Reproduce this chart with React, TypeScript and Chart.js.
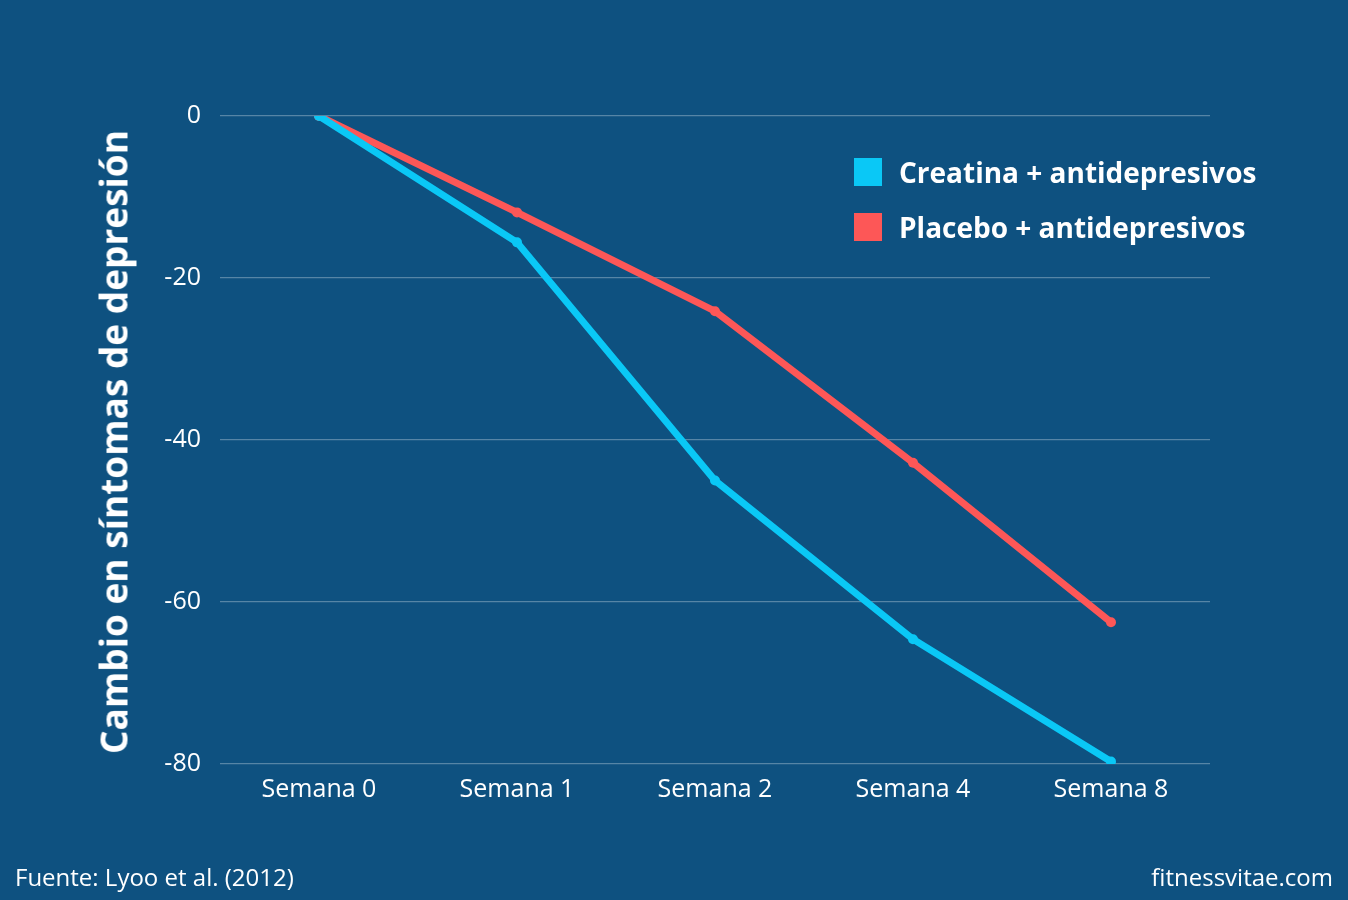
import { useEffect, useRef } from "react";
import { Chart, registerables } from "chart.js";

Chart.register(...registerables);

const weeks = ["Semana 0", "Semana 1", "Semana 2", "Semana 4", "Semana 8"];
const creatina = [0, -15.6, -45, -64.6, -79.7];
const placebo = [0, -11.9, -24.1, -42.8, -62.5];
const yTicks = [0, -20, -40, -60, -80];

const BG = "#0e5180";
const CYAN = "#0ac8f6";
const RED = "#fd5757";
const FONT = "'Open Sans', 'Noto Sans', sans-serif";

export default function App() {
  const canvasRef = useRef<HTMLCanvasElement | null>(null);

  useEffect(() => {
    document.body.style.margin = "0";
    document.body.style.background = BG;
    if (!canvasRef.current) return;

    const chart = new Chart(canvasRef.current, {
      type: "line",
      data: {
        labels: weeks,
        datasets: [
          {
            label: "Creatina + antidepresivos",
            data: creatina,
            borderColor: CYAN,
            backgroundColor: CYAN,
            borderWidth: 7,
            pointRadius: 5,
            pointBorderWidth: 0,
            tension: 0,
          },
          {
            label: "Placebo + antidepresivos",
            data: placebo,
            borderColor: RED,
            backgroundColor: RED,
            borderWidth: 7,
            pointRadius: 5,
            pointBorderWidth: 0,
            tension: 0,
          },
        ],
      },
      options: {
        responsive: false,
        animation: false,
        layout: { padding: { top: 116, right: 138, bottom: 0, left: 0 } },
        plugins: {
          legend: { display: false },
          tooltip: { enabled: false },
        },
        scales: {
          x: {
            offset: true,
            grid: { display: false },
            border: { display: false },
            ticks: {
              color: "#ffffff",
              padding: 3,
              font: { family: FONT, size: 25 },
            },
            afterFit: (scale) => {
              scale.height = 136;
            },
          },
          y: {
            min: -80,
            max: 0,
            afterBuildTicks: (scale) => {
              scale.ticks = yTicks.map((v) => ({ value: v }));
            },
            grid: {
              color: "rgba(255, 255, 255, 0.3)",
              lineWidth: 1.3,
              drawTicks: false,
            },
            border: { display: false },
            ticks: {
              color: "#ffffff",
              padding: 19,
              font: { family: FONT, size: 25 },
            },
            afterFit: (scale) => {
              scale.width = 220;
            },
          },
        },
      },
    });

    return () => chart.destroy();
  }, []);

  const legendItems = [
    { label: "Creatina + antidepresivos", color: CYAN, top: 158 },
    { label: "Placebo + antidepresivos", color: RED, top: 213 },
  ];

  return (
    <div
      style={{
        position: "relative",
        width: 1348,
        height: 900,
        background: BG,
        fontFamily: FONT,
        color: "#ffffff",
        overflow: "hidden",
      }}
    >
      <canvas ref={canvasRef} width={1348} height={900} />
      <div
        style={{
          position: "absolute",
          left: 113,
          top: 442,
          transform: "translate(-50%, -50%) rotate(-90deg)",
          whiteSpace: "nowrap",
          fontSize: 37,
          fontWeight: 700,
        }}
      >
        Cambio en síntomas de depresión
      </div>
      {legendItems.map((item) => (
        <div
          key={item.label}
          style={{
            position: "absolute",
            left: 854,
            top: item.top,
            height: 28,
            display: "flex",
            alignItems: "center",
            whiteSpace: "nowrap",
          }}
        >
          <span
            style={{
              display: "inline-block",
              width: 28,
              height: 28,
              background: item.color,
              marginRight: 17,
            }}
          />
          <span style={{ fontSize: 28, fontWeight: 700 }}>{item.label}</span>
        </div>
      ))}
      <div
        style={{
          position: "absolute",
          left: 15,
          top: 861,
          fontSize: 24,
          lineHeight: "32px",
        }}
      >
        Fuente: Lyoo et al. (2012)
      </div>
      <div
        style={{
          position: "absolute",
          right: 15,
          top: 861,
          fontSize: 24,
          lineHeight: "32px",
        }}
      >
        fitnessvitae.com
      </div>
    </div>
  );
}
